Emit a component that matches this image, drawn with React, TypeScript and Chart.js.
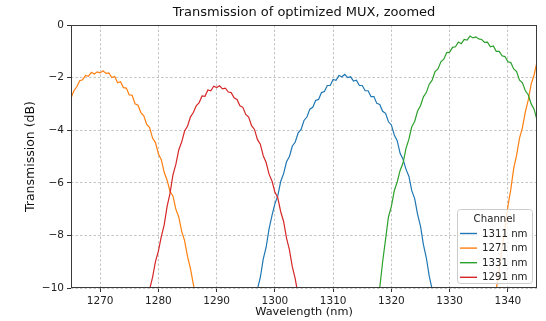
import React, { useEffect, useRef } from "react";
import { Chart, registerables } from "chart.js";

Chart.register(...registerables);

const CHART_TITLE = "Transmission of optimized MUX, zoomed";
const X_TITLE = "Wavelength (nm)";
const Y_TITLE = "Transmission (dB)";
const LEGEND_TITLE = "Channel";

const xTicks = [1270, 1280, 1290, 1300, 1310, 1320, 1330, 1340];
const yTicks = [0, -2, -4, -6, -8, -10];

const channelLabels = ["1311 nm", "1271 nm", "1331 nm", "1291 nm"];
const channelColors = ["#1f77b4", "#ff7f0e", "#2ca02c", "#d62728"];

// 1311 nm channel (blue)
const ch1311Wl = [
  1296.5, 1297.0, 1297.5, 1298.0, 1298.5, 1299.0, 1299.5, 1300.0, 1300.5, 1301.0,
  1301.5, 1302.0, 1302.5, 1303.0, 1303.5, 1304.0, 1304.5, 1305.0, 1305.5, 1306.0,
  1306.5, 1307.0, 1307.5, 1308.0, 1308.5, 1309.0, 1309.5, 1310.0, 1310.5, 1311.0,
  1311.5, 1312.0, 1312.5, 1313.0, 1313.5, 1314.0, 1314.5, 1315.0, 1315.5, 1316.0,
  1316.5, 1317.0, 1317.5, 1318.0, 1318.5, 1319.0, 1319.5, 1320.0, 1320.5, 1321.0,
  1321.5, 1322.0, 1322.5, 1323.0, 1323.5, 1324.0, 1324.5, 1325.0, 1325.5, 1326.0,
  1326.5, 1327.0, 1327.5,
];
const ch1311Db = [
  -10.8, -10.05, -9.6, -8.9, -8.45, -7.75, -7.25, -6.8, -6.5, -5.95,
  -5.65, -5.2, -5.0, -4.6, -4.45, -4.1, -3.97, -3.63, -3.5, -3.2,
  -3.13, -2.87, -2.83, -2.57, -2.53, -2.3, -2.3, -2.07, -2.1, -1.92,
  -1.97, -1.88, -2.0, -1.97, -2.13, -2.1, -2.3, -2.3, -2.5, -2.5,
  -2.72, -2.72, -2.98, -3.02, -3.28, -3.36, -3.68, -3.8, -4.18, -4.4,
  -4.88, -5.1, -5.48, -5.75, -6.3, -6.6, -7.2, -7.65, -8.35, -8.85,
  -9.55, -10.05, -10.8,
];

// 1271 nm channel (orange)
const ch1271Wl = [
  1265.0, 1265.5, 1266.0, 1266.5, 1267.0, 1267.5, 1268.0, 1268.5, 1269.0, 1269.5,
  1270.0, 1270.5, 1271.0, 1271.5, 1272.0, 1272.5, 1273.0, 1273.5, 1274.0, 1274.5,
  1275.0, 1275.5, 1276.0, 1276.5, 1277.0, 1277.5, 1278.0, 1278.5, 1279.0, 1279.5,
  1280.0, 1280.5, 1281.0, 1281.5, 1282.0, 1282.5, 1283.0, 1283.5, 1284.0, 1284.5,
  1285.0, 1285.5, 1286.0, 1286.5, 1287.0, 1310.0,
  1337.5, 1338.0, 1338.5, 1339.0, 1339.5, 1340.0, 1340.5, 1341.0, 1341.5, 1342.0,
  1342.5, 1343.0, 1343.5, 1344.0, 1344.5, 1345.0,
];
const ch1271Db = [
  -2.78, -2.5, -2.35, -2.12, -2.08, -1.92, -1.95, -1.8, -1.86, -1.78,
  -1.82, -1.74, -1.84, -1.82, -2.0, -1.96, -2.2, -2.16, -2.38, -2.4,
  -2.66, -2.67, -3.0, -3.05, -3.33, -3.45, -3.78, -3.9, -4.3, -4.47,
  -4.9, -5.12, -5.6, -5.9, -6.33, -6.5, -7.0, -7.3, -7.85, -8.2,
  -8.8, -9.25, -9.85, -10.4, -11.0, null,
  -11.0, -10.05, -9.35, -8.45, -7.75, -6.9, -6.25, -5.45, -4.95, -4.3,
  -3.9, -3.3, -2.85, -2.25, -1.9, -1.4,
];

// 1331 nm channel (green)
const ch1331Wl = [
  1265.0, 1265.2, 1290.0,
  1317.5, 1318.0, 1318.5, 1319.0, 1319.5, 1320.0, 1320.5, 1321.0, 1321.5, 1322.0,
  1322.5, 1323.0, 1323.5, 1324.0, 1324.5, 1325.0, 1325.5, 1326.0, 1326.5, 1327.0,
  1327.5, 1328.0, 1328.5, 1329.0, 1329.5, 1330.0, 1330.5, 1331.0, 1331.5, 1332.0,
  1332.5, 1333.0, 1333.5, 1334.0, 1334.5, 1335.0, 1335.5, 1336.0, 1336.5, 1337.0,
  1337.5, 1338.0, 1338.5, 1339.0, 1339.5, 1340.0, 1340.5, 1341.0, 1341.5, 1342.0,
  1342.5, 1343.0, 1343.5, 1344.0, 1344.5, 1345.0,
];
const ch1331Db = [
  -9.55, -10.6, null,
  -10.9, -10.0, -9.0, -8.15, -7.3, -6.9, -6.3, -5.97, -5.53, -5.25,
  -4.7, -4.35, -3.87, -3.67, -3.27, -3.07, -2.73, -2.57, -2.25, -2.1,
  -1.77, -1.67, -1.4, -1.3, -1.05, -1.03, -0.85, -0.83, -0.65, -0.71,
  -0.55, -0.57, -0.42, -0.49, -0.45, -0.53, -0.55, -0.66, -0.65, -0.83,
  -0.8, -1.0, -1.0, -1.17, -1.2, -1.4, -1.43, -1.67, -1.77, -2.1,
  -2.2, -2.5, -2.65, -3.0, -3.2, -3.62,
];

// 1291 nm channel (red)
const ch1291Wl = [
  1278.0, 1278.5, 1279.0, 1279.5, 1280.0, 1280.5, 1281.0, 1281.5, 1282.0, 1282.5,
  1283.0, 1283.5, 1284.0, 1284.5, 1285.0, 1285.5, 1286.0, 1286.5, 1287.0, 1287.5,
  1288.0, 1288.5, 1289.0, 1289.5, 1290.0, 1290.5, 1291.0, 1291.5, 1292.0, 1292.5,
  1293.0, 1293.5, 1294.0, 1294.5, 1295.0, 1295.5, 1296.0, 1296.5, 1297.0, 1297.5,
  1298.0, 1298.5, 1299.0, 1299.5, 1300.0, 1300.5, 1301.0, 1301.5, 1302.0, 1302.5,
  1303.0, 1303.5, 1304.0,
];
const ch1291Db = [
  -10.7, -10.05, -9.6, -9.0, -8.6, -8.05, -7.6, -6.9, -6.4, -5.7,
  -5.3, -4.75, -4.45, -4.03, -3.85, -3.5, -3.33, -3.07, -2.95, -2.7,
  -2.71, -2.47, -2.5, -2.33, -2.38, -2.31, -2.43, -2.4, -2.55, -2.57,
  -2.77, -2.83, -3.07, -3.13, -3.4, -3.5, -3.83, -3.97, -4.35, -4.53,
  -4.97, -5.23, -5.67, -5.93, -6.35, -6.57, -7.1, -7.47, -8.1, -8.55,
  -9.2, -9.65, -10.3,
];

const channelWl = [ch1311Wl, ch1271Wl, ch1331Wl, ch1291Wl];
const channelDb = [ch1311Db, ch1271Db, ch1331Db, ch1291Db];
const drawOrder = [3, 2, 1, 0];

const FONT = "'DejaVu Sans', 'Liberation Sans', sans-serif";

const fmtY = (v: number) => (v === 0 ? "0" : (v < 0 ? "\u2212" : "") + Math.abs(v));

const decorPlugin = {
  id: "decor",
  afterDatasetsDraw(chart: any) {
    const { ctx, chartArea } = chart;
    ctx.save();
    ctx.strokeStyle = "#3a3a3a";
    ctx.lineWidth = 1;
    ctx.strokeRect(
      Math.round(chartArea.left) + 0.5,
      Math.round(chartArea.top) + 0.5,
      Math.round(chartArea.right - chartArea.left) - 1,
      Math.round(chartArea.bottom - chartArea.top) - 1
    );
    ctx.restore();
  },
  afterDraw(chart: any) {
    const { ctx, chartArea } = chart;
    ctx.save();
    // Title
    ctx.fillStyle = "#111";
    ctx.font = `13px ${FONT}`;
    ctx.textAlign = "center";
    ctx.textBaseline = "middle";
    ctx.fillText(CHART_TITLE, (chartArea.left + chartArea.right) / 2, 12.5);

    // Legend
    const bw = 75;
    const bh = 74;
    const bx = chartArea.right - 5 - bw;
    const by = chartArea.bottom - 5 - bh;
    ctx.beginPath();
    (ctx as any).roundRect(bx + 0.5, by + 0.5, bw, bh, 3);
    ctx.fillStyle = "rgba(255,255,255,0.8)";
    ctx.fill();
    ctx.strokeStyle = "#cccccc";
    ctx.lineWidth = 1;
    ctx.stroke();

    ctx.font = `10.2px ${FONT}`;
    ctx.fillStyle = "#222";
    ctx.textAlign = "center";
    ctx.fillText(LEGEND_TITLE, bx + bw / 2, by + 10.5);
    ctx.textAlign = "left";
    chart.data.datasets.forEach((ds: any, i: number) => {
      const y = by + 24.5 + i * 14.6;
      ctx.strokeStyle = ds.borderColor;
      ctx.lineWidth = 1.4;
      ctx.beginPath();
      ctx.moveTo(bx + 3, y);
      ctx.lineTo(bx + 20, y);
      ctx.stroke();
      ctx.fillStyle = "#222";
      ctx.fillText(ds.label, bx + 25, y + 0.5);
    });
    ctx.restore();
  },
};

export default function App() {
  const ref = useRef<HTMLCanvasElement | null>(null);

  useEffect(() => {
    document.body.style.margin = "0";
    if (!ref.current) return;
    const datasets = channelLabels.map((label, i) => ({
      label,
      data: channelWl[i].map((x, j) => ({ x, y: channelDb[i][j] })),
      borderColor: channelColors[i],
      backgroundColor: channelColors[i],
      borderWidth: 1.2,
      pointRadius: 0,
      tension: 0,
      spanGaps: false,
      clip: 0,
      order: drawOrder[i],
    }));

    const chart = new Chart(ref.current, {
      type: "line",
      data: { datasets },
      options: {
        animation: false,
        responsive: false,
        devicePixelRatio: 1,
        events: [],
        layout: { padding: { top: 25, right: 9, left: 0, bottom: 0 } },
        plugins: {
          legend: { display: false },
          title: { display: false },
          tooltip: { enabled: false },
        },
        scales: {
          x: {
            type: "linear",
            min: 1265,
            max: 1345,
            afterBuildTicks: (scale: any) => {
              scale.ticks = xTicks.map((v) => ({ value: v }));
            },
            afterFit: (scale: any) => {
              scale.height = 33;
            },
            ticks: {
              callback: (v: any) => String(v),
              font: { family: FONT, size: 10.5 },
              color: "#222",
              padding: 3,
              maxRotation: 0,
              autoSkip: false,
            },
            grid: {
              color: "#b8b8b8",
              lineWidth: 0.8,
              tickLength: 4,
              tickColor: "#333",
              tickWidth: 1,
              tickBorderDash: [],
            },
            border: { display: false, dash: [2.5, 2] },
            title: {
              display: true,
              text: X_TITLE,
              font: { family: FONT, size: 11.3 },
              color: "#111",
              padding: { top: 0, bottom: 2.2 },
            },
          },
          y: {
            type: "linear",
            min: -10,
            max: 0,
            afterBuildTicks: (scale: any) => {
              scale.ticks = yTicks.map((v) => ({ value: v }));
            },
            afterFit: (scale: any) => {
              scale.width = 71;
            },
            ticks: {
              callback: (v: any) => fmtY(Number(v)),
              font: { family: FONT, size: 10.5 },
              color: "#222",
              padding: 3,
              autoSkip: false,
            },
            grid: {
              color: "#b8b8b8",
              lineWidth: 0.8,
              tickLength: 4,
              tickColor: "#333",
              tickWidth: 1,
              tickBorderDash: [],
            },
            border: { display: false, dash: [2.5, 2] },
            title: {
              display: true,
              text: Y_TITLE,
              font: { family: FONT, size: 12.5 },
              color: "#111",
              padding: { top: 23.5, bottom: 0 },
            },
          },
        },
      } as any,
      plugins: [decorPlugin],
    });
    return () => chart.destroy();
  }, []);

  return (
    <div style={{ position: "fixed", left: 0, top: 0, width: 546, height: 321, background: "#fff" }}>
      <canvas ref={ref} width={546} height={321} style={{ width: 546, height: 321, display: "block" }} />
    </div>
  );
}
